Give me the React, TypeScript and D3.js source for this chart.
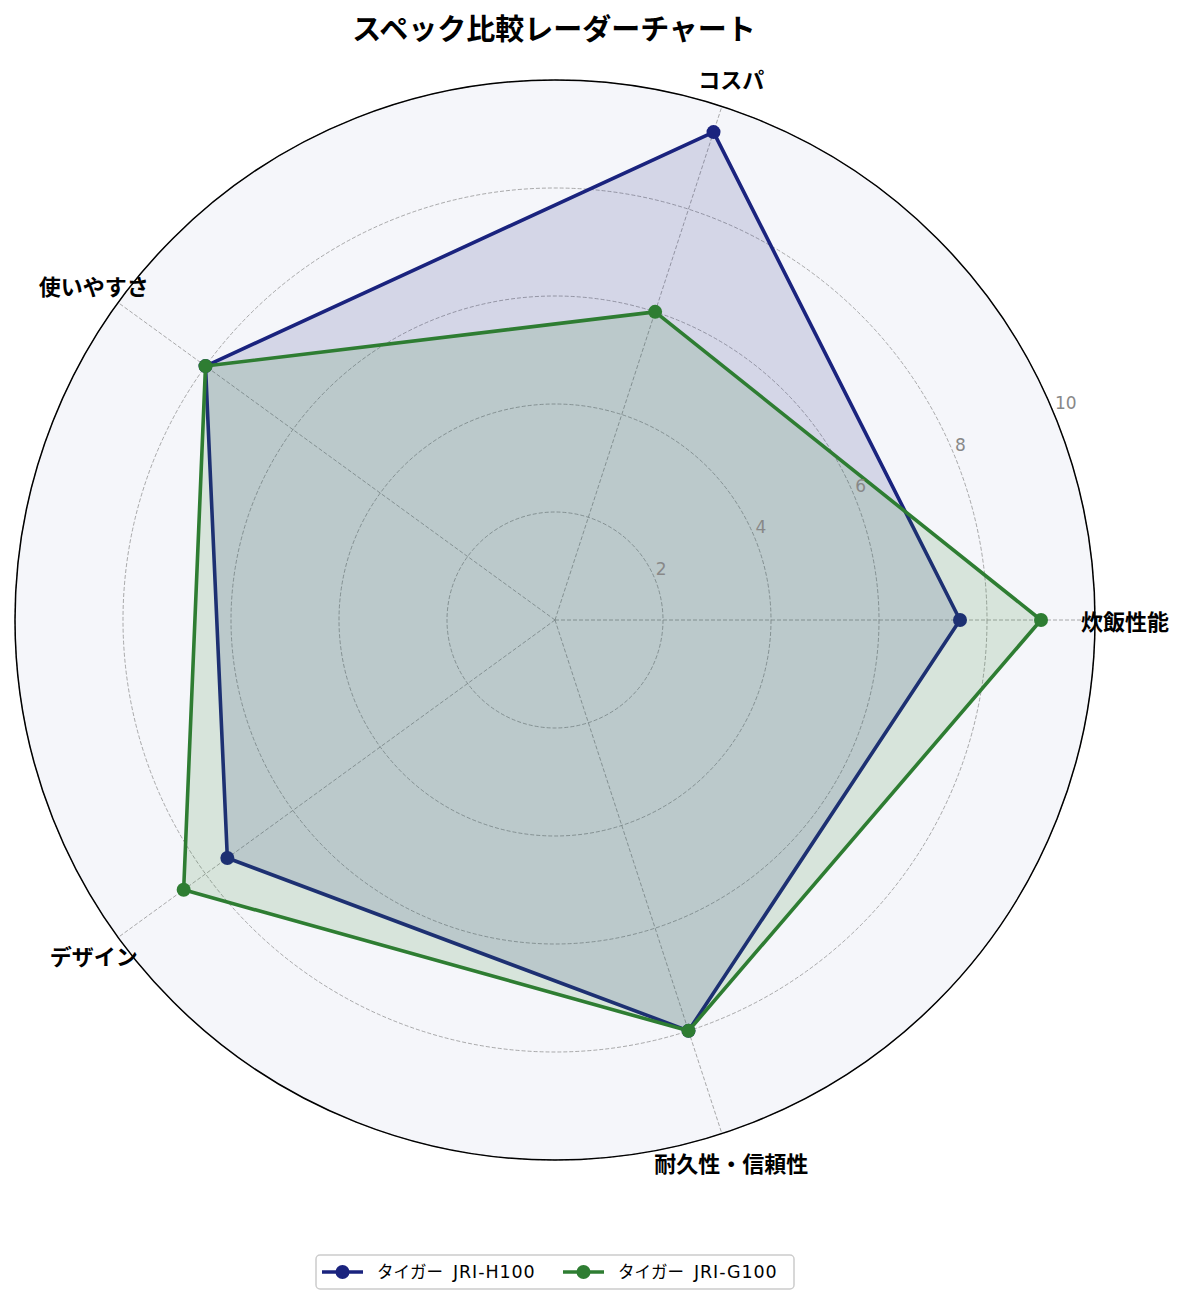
import React from "react";
import * as d3 from "d3";

const categories = ["炊飯性能", "コスパ", "使いやすさ", "デザイン", "耐久性・信頼性"];
const seriesBrand = ["タイガー", "タイガー"];
const seriesModel = ["JRI-H100", "JRI-G100"];
const valuesH100 = [7.5, 9.5, 8, 7.5, 8];
const valuesG100 = [9, 6, 8, 8.5, 8];
const seriesColors = ["#1a237e", "#2e7d32"];
const radialTicks = [2, 4, 6, 8, 10];
const title = "スペック比較レーダーチャート";

const W = 1185;
const H = 1304;
const CX = 555;
const CY = 620;
const R = 540;
const FONT = "'Noto Sans CJK JP', 'Noto Sans', sans-serif";
const LATIN = "'DejaVu Sans', 'Noto Sans CJK JP', sans-serif";

export default function App() {
  const r = d3.scaleLinear().domain([0, 10]).range([0, R]);
  const n = categories.length;
  const theta = (i: number) => (2 * Math.PI * i) / n; // math angle, CCW from right
  const px = (i: number, v: number) => CX + r(v) * Math.cos(theta(i));
  const py = (i: number, v: number) => CY - r(v) * Math.sin(theta(i));

  const line = d3
    .lineRadial<number>()
    .angle((_, i) => Math.PI / 2 - theta(i))
    .radius((v) => r(v))
    .curve(d3.curveLinearClosed);

  const series = [valuesH100, valuesG100];
  const rlabelAngle = (22.5 * Math.PI) / 180;

  return (
    <svg
      width={W}
      height={H}
      style={{ position: "absolute", left: 0, top: 0, background: "#fff" }}
      fontFamily={FONT}
    >
      <rect x={0} y={0} width={W} height={H} fill="#ffffff" />
      {/* polar background */}
      <circle cx={CX} cy={CY} r={R} fill="#f5f6fa" />
      {/* grid circles */}
      {radialTicks.map((t) => (
        <circle
          key={"g" + t}
          cx={CX}
          cy={CY}
          r={r(t)}
          fill="none"
          stroke="#8a8a8a"
          strokeOpacity={0.8}
          strokeWidth={0.9}
          strokeDasharray="4,2"
        />
      ))}
      {/* spokes */}
      {categories.map((c, i) => (
        <line
          key={"s" + c}
          x1={CX}
          y1={CY}
          x2={px(i, 10)}
          y2={py(i, 10)}
          stroke="#8a8a8a"
          strokeOpacity={0.8}
          strokeWidth={0.9}
          strokeDasharray="4,2"
        />
      ))}
      {/* series */}
      <g transform={`translate(${CX},${CY})`}>
        {series.map((vals, si) => (
          <g key={"ser" + si}>
            <path d={line(vals) || ""} fill={seriesColors[si]} fillOpacity={0.15} stroke="none" />
            <path
              d={line(vals) || ""}
              fill="none"
              stroke={seriesColors[si]}
              strokeWidth={3.6}
              strokeLinejoin="round"
            />
            {vals.map((v, i) => (
              <circle
                key={"m" + i}
                cx={px(i, v) - CX}
                cy={py(i, v) - CY}
                r={7}
                fill={seriesColors[si]}
              />
            ))}
          </g>
        ))}
      </g>
      {/* outer spine */}
      <circle cx={CX} cy={CY} r={R} fill="none" stroke="#000" strokeWidth={1.5} />
      {/* radial tick labels */}
      {radialTicks.map((t) => (
        <text
          key={"t" + t}
          x={CX + r(t) * Math.cos(rlabelAngle) + 1}
          y={CY - r(t) * Math.sin(rlabelAngle) - 4}
          fontSize={17}
          fontFamily={LATIN}
          fill="#888888"
          textAnchor="start"
        >
          {t}
        </text>
      ))}
      {/* category labels */}
      {categories.map((c, i) => (
        <text
          key={"c" + c}
          x={CX + (R + 30) * Math.cos(theta(i))}
          y={CY - (R + 30) * Math.sin(theta(i))}
          fontSize={22}
          fontWeight="bold"
          textAnchor="middle"
          dominantBaseline="central"
          fill="#000"
        >
          {c}
        </text>
      ))}
      {/* title */}
      <text x={554} y={27} fontSize={29} fontWeight="bold" textAnchor="middle" dominantBaseline="central" fill="#000">
        {title}
      </text>
      {/* legend */}
      <g>
        <rect x={316} y={1255} width={478} height={34} rx={4} fill="#fff" stroke="#cccccc" strokeWidth={1.5} />
        {seriesBrand.map((brand, si) => {
          const x0 = si === 0 ? 322 : 563;
          return (
            <g key={"l" + si}>
              <line x1={x0} y1={1272} x2={x0 + 41} y2={1272} stroke={seriesColors[si]} strokeWidth={3.6} />
              <circle cx={x0 + 20.5} cy={1272} r={7} fill={seriesColors[si]} />
              <text x={x0 + 55} y={1278} fontSize={16.5} fill="#000">
                <tspan>{brand}</tspan>
                <tspan fontFamily={LATIN} fontSize={17.5} letterSpacing={0.9} dx={10}>
                  {seriesModel[si]}
                </tspan>
              </text>
            </g>
          );
        })}
      </g>
    </svg>
  );
}
